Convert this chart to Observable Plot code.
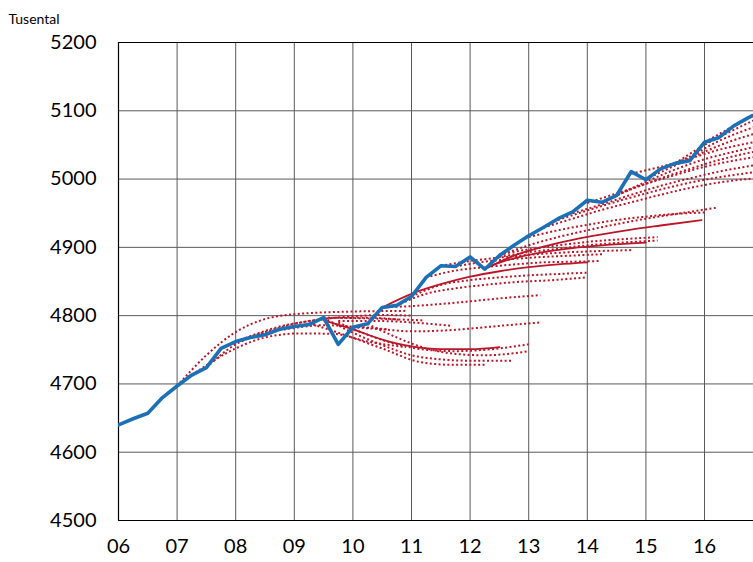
<!DOCTYPE html>
<html>
<head>
<meta charset="utf-8">
<script src="https://cdn.jsdelivr.net/npm/d3@7"></script>
<script src="https://cdn.jsdelivr.net/npm/@observablehq/plot@0.6"></script>
<style>
  html, body { margin: 0; padding: 0; background: #fff; overflow: hidden; }
  #chart svg { display: block; }
</style>
</head>
<body>
<div id="chart"></div>
<script>
// ---- Data ----
const yAxisLabel = "Tusental";
const xTickYears = [2006, 2007, 2008, 2009, 2010, 2011, 2012, 2013, 2014, 2015, 2016];
const xTickLabels = ["06", "07", "08", "09", "10", "11", "12", "13", "14", "15", "16"];
const yTicks = [4500, 4600, 4700, 4800, 4900, 5000, 5100, 5200];

// Outcome (quarterly)
const outcomeYears = [
  2006.0, 2006.25, 2006.5, 2006.75, 2007.0, 2007.25, 2007.5, 2007.75,
  2008.0, 2008.25, 2008.5, 2008.75, 2009.0, 2009.25, 2009.5, 2009.75,
  2010.0, 2010.25, 2010.5, 2010.75, 2011.0, 2011.25, 2011.5, 2011.75,
  2012.0, 2012.25, 2012.5, 2012.75, 2013.0, 2013.25, 2013.5, 2013.75,
  2014.0, 2014.25, 2014.5, 2014.75, 2015.0, 2015.25, 2015.5, 2015.75,
  2016.0, 2016.25, 2016.5, 2016.75, 2017.0
];
const outcomeValues = [
  4640, 4649, 4657, 4680, 4697, 4713, 4724, 4752,
  4762, 4768, 4772, 4780, 4784, 4787, 4797, 4758,
  4783, 4788, 4812, 4815, 4828, 4856, 4873, 4872,
  4886, 4868, 4888, 4903, 4917, 4929, 4942, 4952,
  4969, 4966, 4976, 5011, 4999, 5015, 5023, 5027,
  5054, 5061, 5078, 5090, 5100
];

// Forecasts: [year, value]
const fA1 = [[2007.0,4697],[2007.5,4742],[2008.0,4776],[2008.5,4795],[2009.0,4802],[2010.0,4806],[2010.9,4807]];
const fA2 = [[2007.25,4713],[2008.0,4752],[2008.5,4768],[2009.1,4774],[2009.7,4773],[2010.25,4762],[2010.9,4754]];
const fA3 = [[2007.5,4724],[2008.0,4758],[2008.5,4774],[2009.0,4782],[2009.5,4786],[2010.0,4784],[2010.6,4780]];
const fA4 = [[2007.75,4752],[2008.25,4770],[2008.75,4784],[2009.25,4792],[2009.75,4797],[2010.25,4797],[2010.8,4794]];
const fA5 = [[2008.0,4762],[2008.5,4776],[2009.0,4788],[2009.5,4795],[2010.0,4799],[2010.5,4801],[2011.0,4800]];
const fB1 = [[2009.25,4789],[2009.75,4775],[2010.5,4752],[2011.15,4732],[2011.7,4728],[2012.25,4728]];
const fB2 = [[2009.5,4797],[2010.0,4775],[2010.5,4757],[2011.0,4742],[2011.5,4736],[2012.0,4734],[2012.7,4734]];
const fB3 = [[2009.75,4790],[2010.25,4772],[2010.75,4758],[2011.25,4750],[2011.75,4748],[2012.25,4750],[2013.0,4758]];
const fB4 = [[2009.5,4793],[2010.0,4780],[2010.5,4765],[2011.0,4755],[2011.5,4751],[2012.0,4751],[2012.5,4754]];
const fB5 = [[2010.0,4783],[2010.5,4780],[2011.0,4777],[2011.5,4778],[2012.0,4781],[2012.5,4785],[2013.2,4790]];
const fB6 = [[2009.75,4792],[2010.5,4792],[2011.0,4790],[2011.7,4785]];
const fB7 = [[2009.5,4797],[2010.25,4796],[2011.2,4793]];
const fB8 = [[2010.25,4788],[2010.75,4768],[2011.25,4752],[2011.75,4744],[2012.25,4742],[2012.75,4745],[2013.0,4748]];
const fC1 = [[2010.5,4812],[2011.0,4814],[2011.5,4817],[2012.0,4821],[2012.6,4826],[2013.2,4830]];
const fC2 = [[2010.75,4815],[2011.25,4832],[2011.75,4840],[2012.25,4845],[2012.75,4849],[2013.4,4852],[2014.0,4856]];
const fC3 = [[2011.0,4828],[2011.5,4845],[2012.0,4852],[2012.5,4856],[2013.0,4859],[2013.5,4861],[2014.0,4863]];
const fC4 = [[2010.5,4812],[2011.0,4832],[2011.5,4846],[2012.0,4857],[2012.5,4865],[2013.0,4871],[2013.5,4875],[2014.0,4878]];
const fC5 = [[2011.25,4856],[2011.75,4866],[2012.25,4871],[2012.75,4875],[2013.25,4878],[2013.75,4879],[2014.2,4880]];
const fD1 = [[2011.5,4873],[2012.0,4880],[2012.5,4885],[2013.0,4889],[2013.5,4892],[2014.0,4894],[2014.75,4896]];
const fD2 = [[2011.75,4872],[2012.25,4879],[2012.75,4883],[2013.25,4886],[2013.75,4888],[2014.25,4890]];
const fD3 = [[2012.25,4870],[2012.75,4884],[2013.25,4893],[2013.75,4899],[2014.25,4903],[2015.0,4907]];
const fD4 = [[2012.25,4868],[2012.75,4888],[2013.25,4901],[2013.75,4911],[2014.25,4919],[2014.75,4926],[2015.25,4932],[2015.95,4940]];
const fD5 = [[2012.5,4888],[2013.0,4903],[2013.5,4915],[2014.0,4925],[2014.5,4934],[2015.0,4942],[2015.6,4950],[2016.2,4958]];
const fD6 = [[2012.5,4890],[2013.0,4897],[2013.5,4903],[2014.0,4908],[2014.6,4912],[2015.2,4915]];
const fD7 = [[2012.5,4886],[2013.0,4893],[2013.5,4898],[2014.0,4903],[2014.6,4907],[2015.2,4910]];
const fD8 = [[2013.0,4915],[2013.5,4925],[2014.0,4933],[2014.5,4940],[2015.0,4945],[2015.5,4949],[2016.0,4951]];
const fE0 = [[2013.25,4929],[2013.75,4942],[2014.25,4955],[2014.75,4966],[2015.25,4977],[2015.75,4987],[2016.25,4995],[2016.84,5001]];
const fE1 = [[2013.5,4940],[2014.0,4954],[2014.5,4967],[2015.0,4979],[2015.5,4990],[2016.0,4999],[2016.84,5010]];
const fE2 = [[2013.75,4950],[2014.25,4963],[2014.75,4977],[2015.25,4990],[2015.75,5001],[2016.25,5011],[2016.84,5020]];
const fE3 = [[2014.0,4965],[2014.5,4979],[2015.0,4993],[2015.5,5006],[2016.0,5018],[2016.84,5032]];
const fE4 = [[2014.25,4966],[2014.75,4985],[2015.25,5001],[2015.75,5015],[2016.25,5028],[2016.84,5040]];
const fE5 = [[2014.5,4976],[2015.0,4996],[2015.5,5014],[2016.0,5029],[2016.5,5040],[2016.84,5047]];
const fE6 = [[2014.75,5008],[2015.25,5018],[2015.75,5030],[2016.25,5043],[2016.84,5054]];
const fE7 = [[2015.0,5000],[2015.5,5020],[2016.0,5040],[2016.5,5057],[2016.84,5066]];
const fF1 = [[2015.25,5015],[2015.75,5033],[2016.25,5056],[2016.84,5076]];
const fF2 = [[2015.5,5023],[2016.0,5050],[2016.5,5072],[2016.84,5086]];
const fF3 = [[2016.0,5054],[2016.5,5078],[2016.84,5095]];

const forecastNames = ["A1","A2","A3","A4","A5","B1","B2","B3","B4","B5","B6","B7","B8",
  "C1","C2","C3","C4","C5","D1","D2","D3","D4","D5","D6","D7","D8",
  "E0","E1","E2","E3","E4","E5","E6","E7","F1","F2","F3"];
const forecastSeries = [fA1,fA2,fA3,fA4,fA5,fB1,fB2,fB3,fB4,fB5,fB6,fB7,fB8,
  fC1,fC2,fC3,fC4,fC5,fD1,fD2,fD3,fD4,fD5,fD6,fD7,fD8,
  fE0,fE1,fE2,fE3,fE4,fE5,fE6,fE7,fF1,fF2,fF3];
const solidForecasts = ["B4","C4","D3","D4"];

// ---- Build tables ----
const outcome = outcomeYears.map((t, i) => ({year: t, value: outcomeValues[i]}));
const forecastRows = forecastSeries.flatMap((s, i) =>
  s.map(([t, v]) => ({id: forecastNames[i], year: t, value: v, solid: solidForecasts.includes(forecastNames[i])}))
);
const dotted = forecastRows.filter(d => !d.solid);
const solid = forecastRows.filter(d => d.solid);

const red = "#bb1629";
const blue = "#1c70b6";
const gridColor = "#5a5a5a";

const chart = Plot.plot({
  width: 753,
  height: 562,
  marginTop: 42,
  marginBottom: 42,
  marginLeft: 118,
  marginRight: 0,
  style: {fontFamily: "Lato, 'Open Sans', sans-serif", background: "#fff", color: "#000"},
  x: {domain: [2006, 2016.836], label: null},
  y: {domain: [4500, 5200], label: null},
  marks: [
    Plot.gridX(xTickYears.slice(1), {stroke: gridColor, strokeOpacity: 1, strokeWidth: 1}),
    Plot.gridY(yTicks.slice(1, -1), {stroke: gridColor, strokeOpacity: 1, strokeWidth: 1}),
    Plot.ruleY([yTicks[0], yTicks[yTicks.length - 1]], {stroke: "#000", strokeWidth: 1.2}),
    Plot.ruleX([xTickYears[0]], {stroke: "#000", strokeWidth: 1.2}),
    Plot.line(dotted, {x: "year", y: "value", z: "id", stroke: red, strokeWidth: 2,
      strokeDasharray: "2,2.4", strokeLinecap: "butt", curve: "monotone-x", clip: true}),
    Plot.line(solid, {x: "year", y: "value", z: "id", stroke: red, strokeWidth: 1.8,
      curve: "monotone-x", clip: true}),
    Plot.line(outcome, {x: "year", y: "value", stroke: blue, strokeWidth: 3.6, clip: true,
      strokeLinejoin: "round"}),
    Plot.axisX({ticks: xTickYears, tickFormat: d => xTickLabels[xTickYears.indexOf(d)],
      tickSize: 0, tickPadding: 18, fontSize: 20, label: null}),
    Plot.axisY({ticks: yTicks, tickFormat: d => String(d), tickSize: 0, tickPadding: 22,
      fontSize: 20, label: null}),
    Plot.text([yAxisLabel], {frameAnchor: "top-left", text: d => d, dx: -110, dy: -28,
      fontSize: 14, textAnchor: "start", fill: "#000"})
  ]
});
document.getElementById("chart").appendChild(chart);
</script>
</body>
</html>
